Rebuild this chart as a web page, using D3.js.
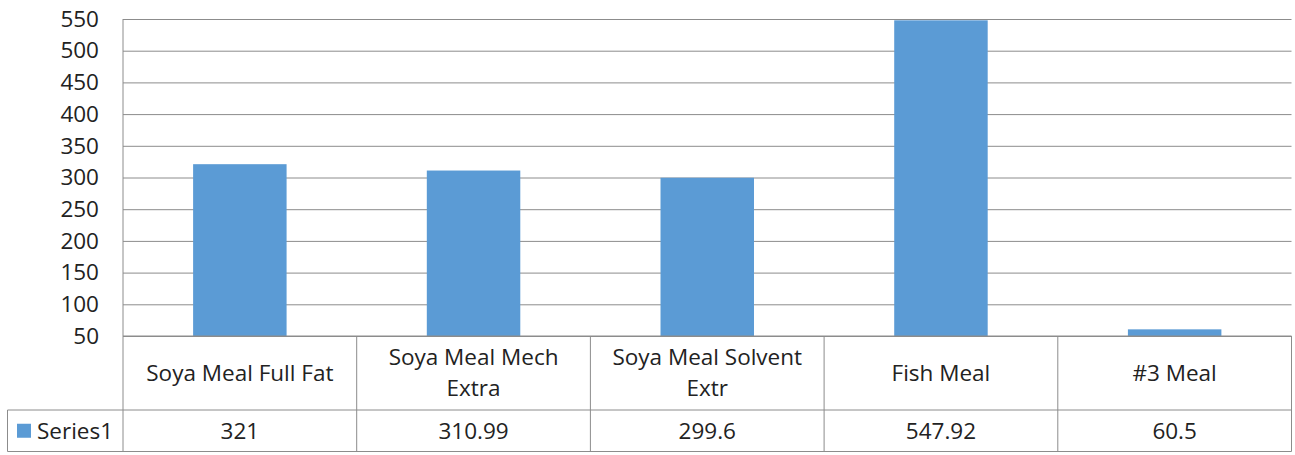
<!DOCTYPE html>
<html>
<head>
<meta charset="utf-8">
<script src="https://cdn.jsdelivr.net/npm/d3@7"></script>
<style>
  body { margin: 0; background: #fff; }
  text { font-family: "Open Sans", sans-serif; fill: #222; }
</style>
</head>
<body>
<div id="chart"></div>
<script>
// Chart data
var categories = [["Soya Meal Full Fat"], ["Soya Meal Mech", "Extra"], ["Soya Meal Solvent", "Extr"], ["Fish Meal"], ["#3 Meal"]];
var seriesName = "Series1";
var values = [321, 310.99, 299.6, 547.92, 60.5];
var valueLabels = ["321", "310.99", "299.6", "547.92", "60.5"];
var yTicks = [50, 100, 150, 200, 250, 300, 350, 400, 450, 500, 550];

var svgWidth = 1295;
var svgHeight = 455;

var plot = { left: 123, right: 1291.5, top: 19, bottom: 336 };
var catRowBottom = 410;
var tableBottom = 451.5;
var tableLeft = 7.5;
var lineColor = "#8c8c8c";
var barColor = "#5b9bd5";
var fontSize = "22.5px";

var svg = d3.select("#chart")
  .append("svg")
  .attr("width", svgWidth)
  .attr("height", svgHeight);

var xScale = d3.scaleBand()
  .domain(d3.range(values.length))
  .range([plot.left, plot.right])
  .paddingInner(0.6)
  .paddingOuter(0.3);

var yScale = d3.scaleLinear()
  .domain([50, 550])
  .range([plot.bottom, plot.top]);

// horizontal gridlines
var yGrid = d3.axisLeft(yScale).tickValues(yTicks).tickSize(-(plot.right - plot.left)).tickFormat("");
svg.append("g")
  .attr("transform", `translate(${plot.left},0)`)
  .call(yGrid)
  .call(g => g.select(".domain").remove())
  .selectAll("line")
  .attr("stroke", lineColor)
  .attr("stroke-width", 1);

// tick labels
var yAxis = d3.axisLeft(yScale).tickValues(yTicks).tickSize(0).tickPadding(24);
svg.append("g")
  .attr("transform", `translate(${plot.left},0)`)
  .call(yAxis)
  .call(g => g.select(".domain").remove())
  .selectAll("text")
  .attr("font-size", fontSize)
  .attr("font-family", "'Open Sans', sans-serif")
  .attr("fill", "#222");

// bars
svg.append("g")
  .selectAll("rect")
  .data(values)
  .enter()
  .append("rect")
  .attr("x", (d, i) => xScale(i))
  .attr("width", xScale.bandwidth())
  .attr("y", d => yScale(d))
  .attr("height", d => yScale(50) - yScale(d))
  .attr("fill", barColor);

// vertical axis line
svg.append("line")
  .attr("x1", plot.left).attr("x2", plot.left)
  .attr("y1", plot.top).attr("y2", tableBottom)
  .attr("stroke", lineColor);

// data table
var table = svg.append("g").attr("stroke", lineColor).attr("fill", "none");
table.append("line")
  .attr("x1", plot.left).attr("x2", plot.right)
  .attr("y1", plot.bottom).attr("y2", plot.bottom);
table.append("line")
  .attr("x1", tableLeft).attr("x2", plot.right)
  .attr("y1", catRowBottom).attr("y2", catRowBottom);
table.append("line")
  .attr("x1", tableLeft).attr("x2", plot.right)
  .attr("y1", tableBottom).attr("y2", tableBottom);
table.append("line")
  .attr("x1", tableLeft).attr("x2", tableLeft)
  .attr("y1", catRowBottom).attr("y2", tableBottom);

var step = xScale.step();
var bounds = d3.range(values.length + 1).map(i => plot.left + i * step);
table.selectAll("line.col")
  .data(bounds.slice(1))
  .enter()
  .append("line")
  .attr("class", "col")
  .attr("x1", d => d).attr("x2", d => d)
  .attr("y1", plot.bottom).attr("y2", tableBottom);

// category labels
var catY = (plot.bottom + catRowBottom) / 2;
var lineH = 31;
var catText = svg.append("g").selectAll("text")
  .data(categories)
  .enter()
  .append("text")
  .attr("text-anchor", "middle")
  .attr("font-size", fontSize)
  .attr("x", (d, i) => xScale(i) + xScale.bandwidth() / 2);
catText.selectAll("tspan")
  .data(d => d.map((t, j) => ({ t: t, j: j, n: d.length })))
  .enter()
  .append("tspan")
  .attr("x", function() { return d3.select(this.parentNode).attr("x"); })
  .attr("y", d => catY + (d.j - (d.n - 1) / 2) * lineH)
  .attr("dy", "0.35em")
  .text(d => d.t);

// value row
var valY = (catRowBottom + tableBottom) / 2;
svg.append("g").selectAll("text")
  .data(valueLabels)
  .enter()
  .append("text")
  .attr("text-anchor", "middle")
  .attr("font-size", fontSize)
  .attr("x", (d, i) => xScale(i) + xScale.bandwidth() / 2)
  .attr("y", valY)
  .attr("dy", "0.35em")
  .text(d => d);

// legend key
svg.append("rect")
  .attr("x", 17).attr("y", valY - 7)
  .attr("width", 14).attr("height", 14)
  .attr("fill", barColor);
svg.append("text")
  .attr("x", 37)
  .attr("y", valY)
  .attr("dy", "0.35em")
  .attr("font-size", fontSize)
  .text(seriesName);
</script>
</body>
</html>
